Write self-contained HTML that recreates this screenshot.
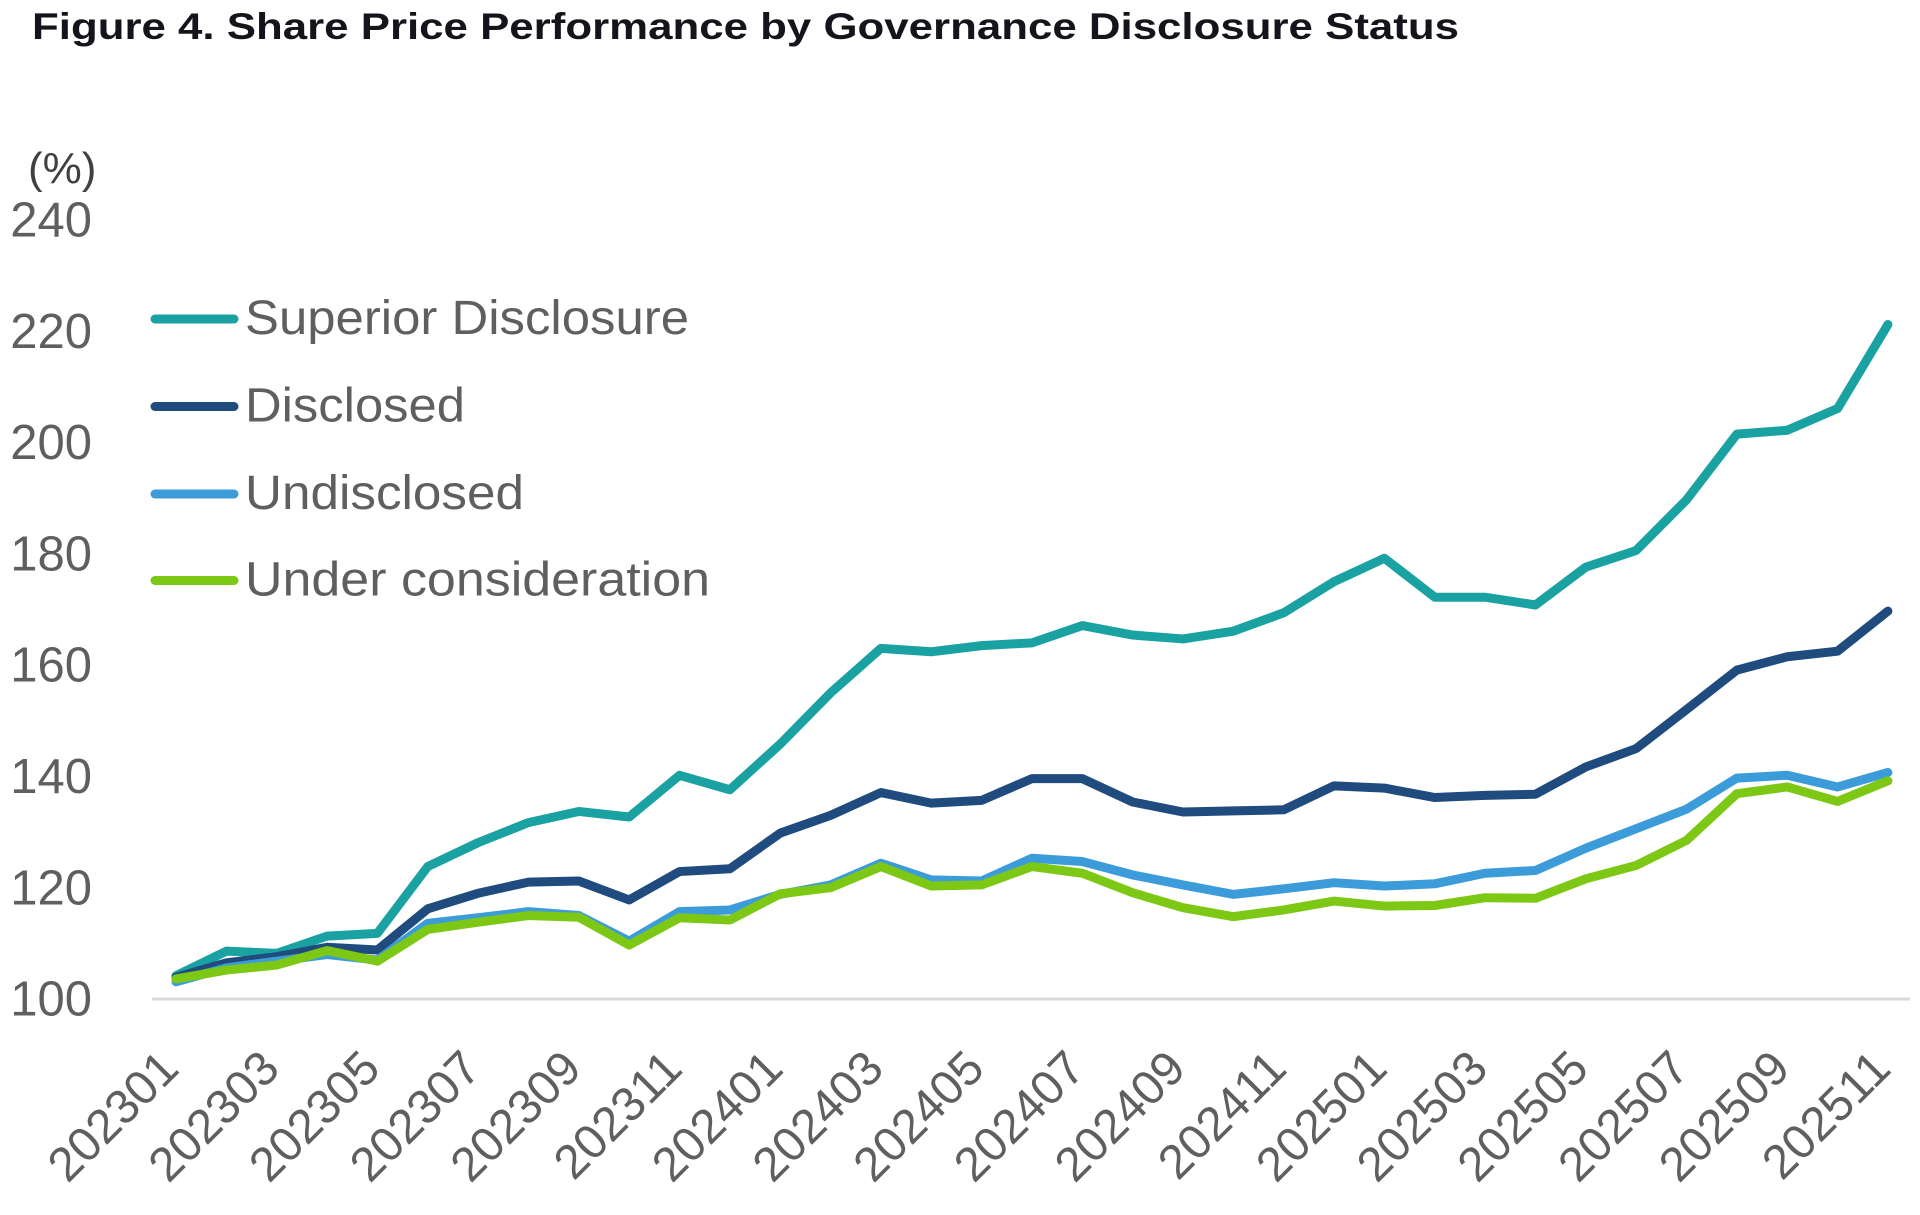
<!DOCTYPE html>
<html>
<head>
<meta charset="utf-8">
<style>
  html, body { margin:0; padding:0; background:#fff; }
  svg { display:block; }
  .ax { font-family:"Liberation Sans", sans-serif; fill:#5f5f5f; font-size:49px; }
  .xl { font-family:"Liberation Sans", sans-serif; fill:#5f5f5f; font-size:48px; }
  .lg { font-family:"Liberation Sans", sans-serif; fill:#5f5f5f; font-size:48px; }
</style>
</head>
<body>
<svg width="1920" height="1215" viewBox="0 0 1920 1215" xmlns="http://www.w3.org/2000/svg">
  <rect width="1920" height="1215" fill="#fff"/>
  <text x="32" y="38.8" font-family="Liberation Sans, sans-serif" font-weight="bold" font-size="37" fill="#14141c" textLength="1427" lengthAdjust="spacingAndGlyphs">Figure 4. Share Price Performance by Governance Disclosure Status</text>

  <text x="28" y="183" font-family="Liberation Sans, sans-serif" font-size="44" fill="#404040">(%)</text>

  <g class="ax" text-anchor="end">
    <text x="92" y="236.5">240</text>
    <text x="92" y="347.8">220</text>
    <text x="92" y="459.1">200</text>
    <text x="92" y="570.4">180</text>
    <text x="92" y="681.7">160</text>
    <text x="92" y="793">140</text>
    <text x="92" y="904.3">120</text>
    <text x="92" y="1015.6">100</text>
  </g>

  <line x1="152" y1="999" x2="1910" y2="999" stroke="#d9d9d9" stroke-width="3"/>

  <g class="xl" text-anchor="end">
    <text transform="translate(181,1071) rotate(-45)">202301</text>
    <text transform="translate(281.7,1071) rotate(-45)">202303</text>
    <text transform="translate(382.4,1071) rotate(-45)">202305</text>
    <text transform="translate(483.1,1071) rotate(-45)">202307</text>
    <text transform="translate(583.8,1071) rotate(-45)">202309</text>
    <text transform="translate(684.5,1071) rotate(-45)">202311</text>
    <text transform="translate(785.2,1071) rotate(-45)">202401</text>
    <text transform="translate(885.9,1071) rotate(-45)">202403</text>
    <text transform="translate(986.6,1071) rotate(-45)">202405</text>
    <text transform="translate(1087.3,1071) rotate(-45)">202407</text>
    <text transform="translate(1188,1071) rotate(-45)">202409</text>
    <text transform="translate(1288.7,1071) rotate(-45)">202411</text>
    <text transform="translate(1389.4,1071) rotate(-45)">202501</text>
    <text transform="translate(1490.1,1071) rotate(-45)">202503</text>
    <text transform="translate(1590.8,1071) rotate(-45)">202505</text>
    <text transform="translate(1691.5,1071) rotate(-45)">202507</text>
    <text transform="translate(1792.2,1071) rotate(-45)">202509</text>
    <text transform="translate(1892.9,1071) rotate(-45)">202511</text>
  </g>

  <g transform="matrix(50.35 0 0 -5.565 176 1555.5)" fill="none" stroke-linejoin="round" stroke-linecap="round">
    <polyline vector-effect="non-scaling-stroke" stroke="#1aa2a2" stroke-width="9"
      points="0,104.2 1,108.6 2,108.2 3,111.3 4,111.8 5,123.8 6,128.1 7,131.7 8,133.7 9,132.7 10,140.2 11,137.6 12,145.8 13,155.0 14,163.0 15,162.4 16,163.5 17,164.0 18,167.1 19,165.4 20,164.7 21,166.1 22,169.4 23,175.0 24,179.2 25,172.2 26,172.2 27,170.8 28,177.6 29,180.6 30,189.7 31,201.5 32,202.2 33,206.1 34,221.2"/>
    <polyline vector-effect="non-scaling-stroke" stroke="#1f4b7e" stroke-width="9"
      points="0,103.9 1,106.5 2,107.6 3,109.3 4,108.8 5,116.2 6,119.0 7,121.0 8,121.2 9,117.8 10,122.9 11,123.4 12,129.8 13,133.0 14,137.1 15,135.2 16,135.7 17,139.6 18,139.6 19,135.4 20,133.6 21,133.8 22,134.0 23,138.3 24,137.9 25,136.2 26,136.6 27,136.8 28,141.7 29,145.0 30,152.0 31,159.1 32,161.5 33,162.5 34,169.7"/>
    <polyline vector-effect="non-scaling-stroke" stroke="#3c9cda" stroke-width="9"
      points="0,103.1 1,105.6 2,106.8 3,108.0 4,107.0 5,113.6 6,114.6 7,115.7 8,115.0 9,110.4 10,115.7 11,116.0 12,118.8 13,120.5 14,124.4 15,121.4 16,121.2 17,125.3 18,124.7 19,122.3 20,120.5 21,118.8 22,119.8 23,120.9 24,120.3 25,120.7 26,122.6 27,123.1 28,127.1 29,130.6 30,134.1 31,139.7 32,140.2 33,138.1 34,140.7"/>
    <polyline vector-effect="non-scaling-stroke" stroke="#7cc814" stroke-width="9"
      points="0,103.6 1,105.2 2,106.1 3,108.7 4,106.8 5,112.5 6,113.8 7,115.0 8,114.7 9,109.7 10,114.6 11,114.2 12,118.9 13,120.0 14,123.8 15,120.3 16,120.5 17,123.8 18,122.6 19,119.1 20,116.4 21,114.8 22,116.0 23,117.6 24,116.7 25,116.8 26,118.2 27,118.1 28,121.6 29,124.0 30,128.5 31,136.9 32,138.1 33,135.5 34,139.2"/>
  </g>

  <g stroke-width="9" stroke-linecap="round">
    <line x1="155" y1="319" x2="234" y2="319" stroke="#1aa2a2"/>
    <line x1="155" y1="406.5" x2="234" y2="406.5" stroke="#1f4b7e"/>
    <line x1="155" y1="494" x2="234" y2="494" stroke="#3c9cda"/>
    <line x1="155" y1="580.5" x2="234" y2="580.5" stroke="#7cc814"/>
  </g>
  <g class="lg">
    <text x="245" y="334" textLength="444" lengthAdjust="spacingAndGlyphs">Superior Disclosure</text>
    <text x="245" y="421.5" textLength="220" lengthAdjust="spacingAndGlyphs">Disclosed</text>
    <text x="245" y="509" textLength="279" lengthAdjust="spacingAndGlyphs">Undisclosed</text>
    <text x="245" y="595.5" textLength="465" lengthAdjust="spacingAndGlyphs">Under consideration</text>
  </g>
</svg>
</body>
</html>
